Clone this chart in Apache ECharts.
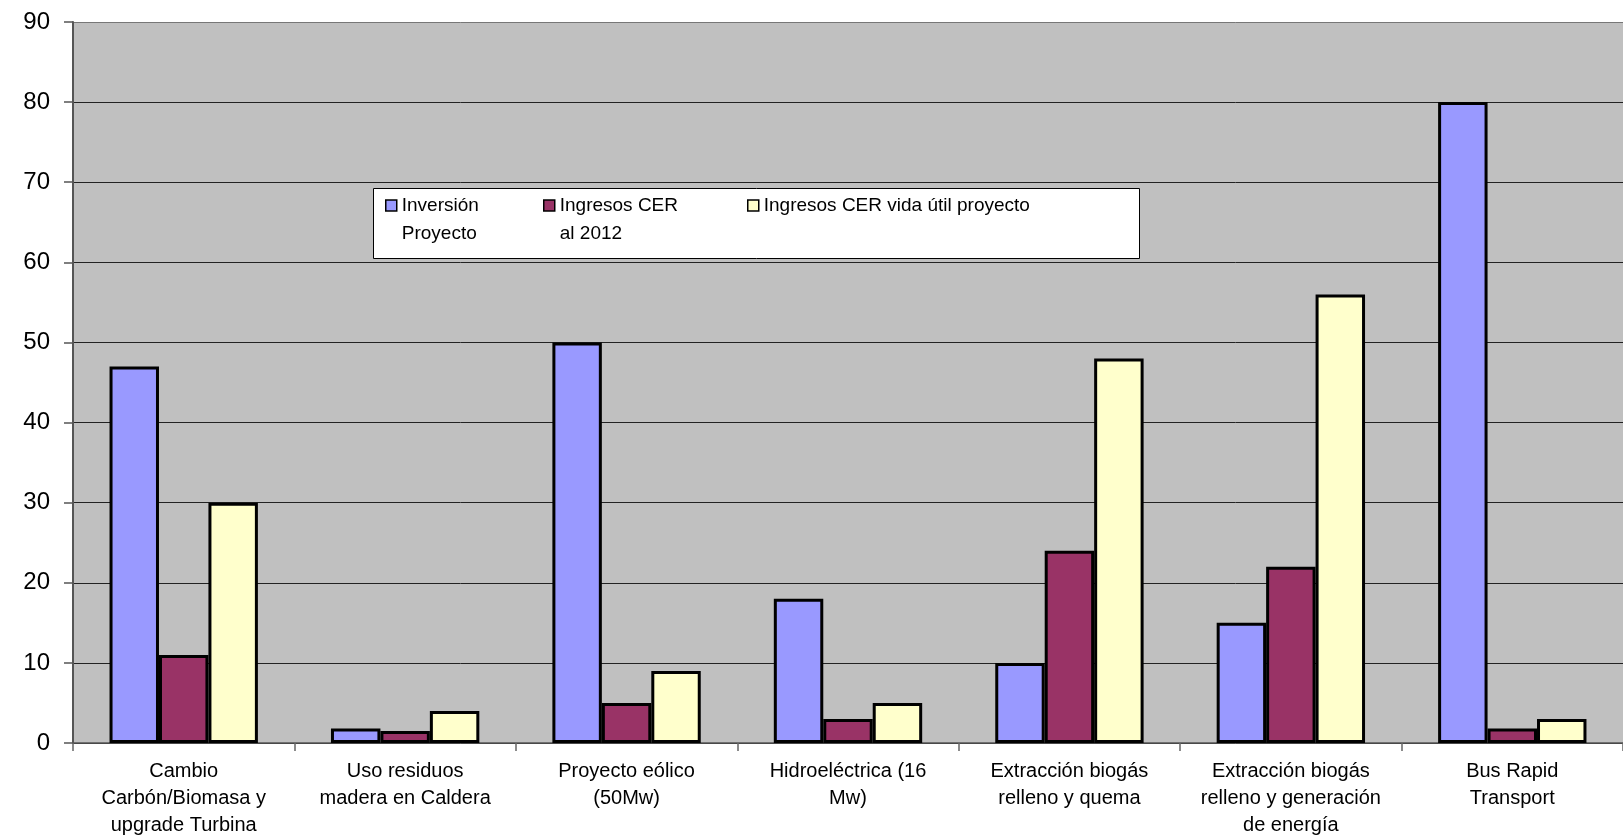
<!DOCTYPE html>
<html>
<head>
<meta charset="utf-8">
<script src="https://cdn.jsdelivr.net/npm/echarts@6/dist/echarts.min.js"></script>
<style>
html,body{margin:0;padding:0;background:#fff;}
#chart{width:1623px;height:839px;}
</style>
</head>
<body>
<div id="chart"></div>
<script>
const categories = [
  "Cambio\nCarbón/Biomasa y\nupgrade Turbina",
  "Uso residuos\nmadera en Caldera",
  "Proyecto eólico\n(50Mw)",
  "Hidroeléctrica (16\nMw)",
  "Extracción biogás\nrelleno y quema",
  "Extracción biogás\nrelleno y generación\nde energía",
  "Bus Rapid\nTransport"
];
const seriesNames = ["Inversión\nProyecto", "Ingresos CER\nal 2012", "Ingresos CER vida útil proyecto"];
const inversion = [47, 1.8, 50, 18, 10, 15, 80];
const ingresos2012 = [11, 1.5, 5, 3, 24, 22, 1.8];
const ingresosVida = [30, 4, 9, 5, 48, 56, 3];
const yTicks = [0, 10, 20, 30, 40, 50, 60, 70, 80, 90];

const colors = ["#9999FF", "#993366", "#FFFFCC"];
const FONT = "Liberation Sans";

const chart = echarts.init(document.getElementById('chart'));

function legendItem(i, left, top, twoLine) {
  return {
    show: true,
    left: left,
    top: top,
    padding: 0,
    z: 12,
    selectedMode: false,
    icon: 'rect',
    itemWidth: 11,
    itemHeight: 11,
    itemStyle: { borderColor: '#000', borderWidth: 1.5 },
    formatter: twoLine ? (n => '\n' + n) : (n => n),
    textStyle: { fontFamily: FONT, fontSize: 19, color: '#000', lineHeight: 28 },
    data: [seriesNames[i]]
  };
}

const gridColors = yTicks.map((v, i) => i === yTicks.length - 1 ? '#777' : '#222');

const option = {
  backgroundColor: '#fff',
  animation: false,
  grid: {
    left: 73, top: 22, right: -14, bottom: 95,
    show: true, backgroundColor: '#C0C0C0', borderWidth: 0
  },
  graphic: [{
    type: 'rect', z: 10,
    shape: { x: 373.5, y: 188.5, width: 766, height: 70 },
    style: { fill: '#fff', stroke: '#000', lineWidth: 1 }
  }],
  legend: [
    legendItem(0, 385, 163.5, true),
    legendItem(1, 543, 163.5, true),
    legendItem(2, 747, 191.5, false)
  ],
  xAxis: {
    type: 'category',
    data: categories,
    axisLine: { show: true, lineStyle: { color: '#555', width: 1.5 } },
    axisTick: { show: true, length: 8, lineStyle: { color: '#666', width: 1.5 } },
    axisLabel: {
      interval: 0, fontFamily: FONT, fontSize: 20, color: '#000',
      lineHeight: 27, margin: 15
    },
    splitLine: { show: false }
  },
  yAxis: {
    type: 'value',
    min: yTicks[0], max: yTicks[yTicks.length - 1], interval: 10,
    axisLine: { show: true, lineStyle: { color: '#555', width: 2 } },
    axisTick: { show: true, length: 9, lineStyle: { color: '#555', width: 1.5 } },
    axisLabel: { fontFamily: FONT, fontSize: 24, color: '#000', margin: 23 },
    splitLine: { show: true, lineStyle: { color: gridColors, width: 1 } }
  },
  series: [
    { name: seriesNames[0], type: 'bar', data: inversion },
    { name: seriesNames[1], type: 'bar', data: ingresos2012 },
    { name: seriesNames[2], type: 'bar', data: ingresosVida }
  ].map((s, i) => Object.assign(s, {
    barGap: '0%',
    barCategoryGap: '33%',
    itemStyle: { color: colors[i], borderColor: '#000', borderWidth: 3 }
  }))
};
chart.setOption(option);
</script>
</body>
</html>
